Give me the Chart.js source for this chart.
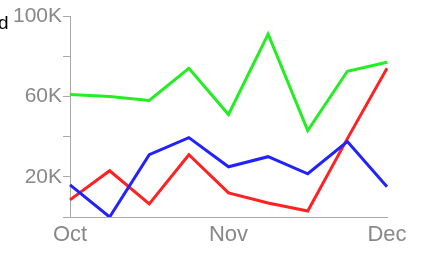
<!DOCTYPE html>
<html>
<head>
<meta charset="utf-8">
<script src="https://cdn.jsdelivr.net/npm/chart.js@4/dist/chart.umd.min.js"></script>
<style>
  html, body { margin: 0; padding: 0; background: #fff; overflow: hidden; }
  #wrap { position: relative; width: 430px; height: 253px; }
  #cut { position: absolute; left: -2px; top: 12px; font: 19px "Liberation Sans", Arial, sans-serif; color: #000; }
</style>
</head>
<body>
<div id="wrap">
  <canvas id="chart" width="430" height="253"></canvas>
  <div id="cut">d</div>
</div>
<script>
// one point per step, only three of them are named on the axis
const labels = ['Oct', '', '', '', 'Nov', '', '', '', 'Dec'];
const greenValues = [61000, 60000, 58000, 74000, 51000, 91000, 43000, 72500, 77000];
const blueValues = [16000, 0, 31000, 39500, 25000, 30000, 21500, 37500, 15000];
const redValues = [8500, 23000, 6500, 31000, 12000, 7000, 3000, 39000, 74000];
const yTicksShown = [20000, 60000, 100000];

function lineSet(data, color) {
    return {
        data: data,
        borderColor: color,
        borderWidth: 3,
        pointRadius: 0,
        tension: 0,
        fill: false
    };
}

let chart = new Chart(document.getElementById('chart'), {
    type: 'line',
    data: {
        labels: labels,
        datasets: [
            lineSet(greenValues, '#22ee22'),
            lineSet(blueValues, '#2222ff'),
            lineSet(redValues, '#ff2222')
        ]
    },
    options: {
        responsive: false,
        animation: false,
        layout: { padding: { left: 0, right: 43, top: 16, bottom: 0 } },
        plugins: { legend: { display: false }, tooltip: { enabled: false } },
        scales: {
            x: {
                afterFit: scale => { scale.height = 36; },
                grid: { display: false, drawTicks: false },
                border: { display: true, color: '#aaaaaa', width: 1 },
                ticks: {
                    autoSkip: false,
                    maxRotation: 0,
                    padding: 5,
                    color: '#888888',
                    font: { family: 'Liberation Sans', size: 22 }
                }
            },
            y: {
                min: 0,
                max: 100000,
                afterFit: scale => { scale.width = 70; },
                grid: { drawOnChartArea: false, drawTicks: true, tickLength: 7, color: '#aaaaaa' },
                border: { display: true, color: '#aaaaaa', width: 1 },
                ticks: {
                    stepSize: 20000,
                    padding: 1,
                    color: '#888888',
                    font: { family: 'Liberation Sans', size: 21 },
                    callback: value => yTicksShown.includes(value) ? (value / 1000) + 'K' : ''
                }
            }
        }
    }
});
</script>
</body>
</html>
